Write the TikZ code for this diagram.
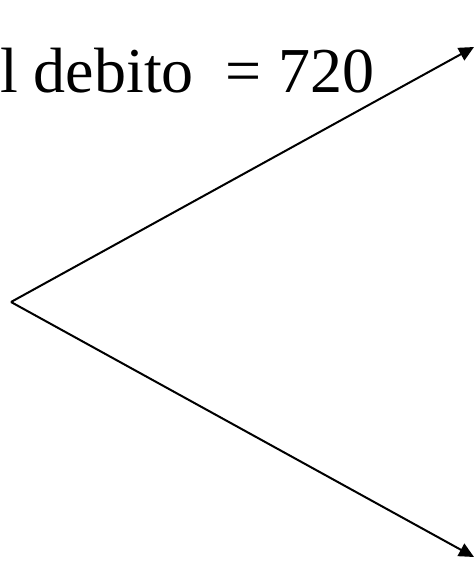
\documentclass[tikz,border=0pt]{standalone}
\usepackage{fontspec}
\setmainfont{Liberation Serif}
\usetikzlibrary{arrows.meta}
\begin{document}
\begin{tikzpicture}[x=1pt,y=-1pt,
  conn/.style={line width=2pt,-{Triangle[length=15pt,width=14pt]}},
  lbl/.style={inner sep=0pt,anchor=base west,font=\fontsize{64}{70}\selectfont}]
\useasboundingbox (0,0) rectangle (475,568);
\node[lbl] (t) at (0,92) {l debito~ = 720};
\coordinate (v) at (11,302);
\coordinate (a) at (474,47);
\coordinate (b) at (474,557);
\draw[conn] (v) -- (a);
\draw[conn] (v) -- (b);
\end{tikzpicture}
\end{document}
